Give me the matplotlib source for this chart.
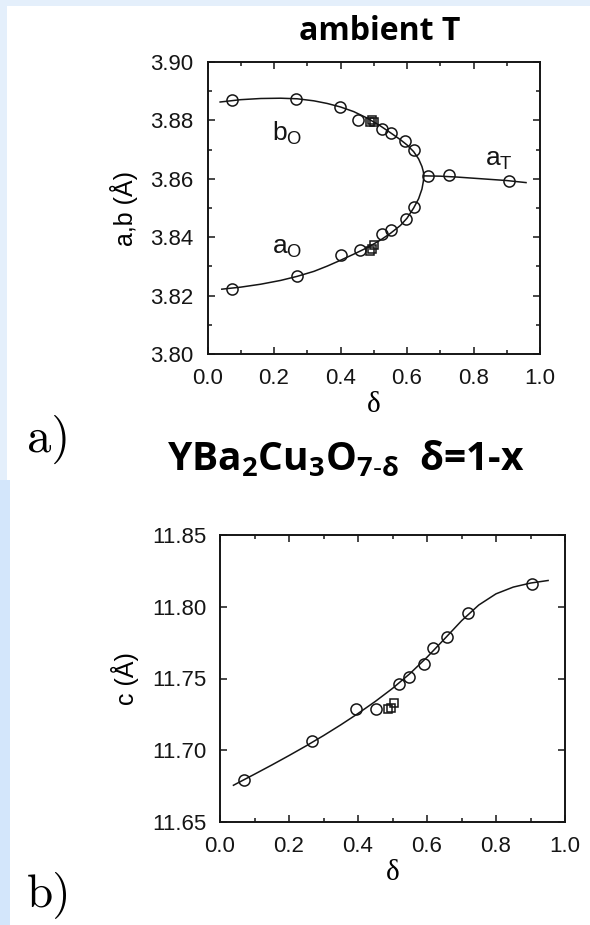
import matplotlib
matplotlib.use("Agg")
import matplotlib.pyplot as plt
from matplotlib.patches import Rectangle
from matplotlib.ticker import MultipleLocator, FormatStrFormatter

plt.rcParams["font.family"] = ["Liberation Sans", "DejaVu Sans"]
plt.rcParams["mathtext.fontset"] = "custom"
plt.rcParams["mathtext.rm"] = "Liberation Sans"
plt.rcParams["mathtext.bf"] = "Open Sans:bold"

# a) lattice parameters a, b vs delta
b_delta = [0.073, 0.266, 0.398, 0.454, 0.524, 0.552, 0.595, 0.622]
b_val = [3.8869, 3.8872, 3.8846, 3.8803, 3.8772, 3.8758, 3.8731, 3.8697]
a_delta = [0.075, 0.270, 0.401, 0.459, 0.524, 0.552, 0.596, 0.622]
a_val = [3.8222, 3.8267, 3.8340, 3.8356, 3.8410, 3.8426, 3.8463, 3.8505]
aT_delta = [0.664, 0.727, 0.906]
aT_val = [3.8609, 3.8614, 3.8594]
b_sq_delta = [0.488, 0.495, 0.502]
b_sq_val = [3.8793, 3.8800, 3.8796]
a_sq_delta = [0.488, 0.495, 0.502]
a_sq_val = [3.8353, 3.8358, 3.8372]

# fitted curve (b branch -> tip -> a branch, then a_T)
ab_fit_delta = [0.038, 0.10, 0.16, 0.22, 0.27, 0.32, 0.36, 0.40, 0.44, 0.48,
                0.52, 0.55, 0.58, 0.60, 0.62, 0.635, 0.645, 0.649, 0.651,
                0.649, 0.645, 0.635, 0.62, 0.60, 0.58, 0.55, 0.52, 0.48,
                0.44, 0.40, 0.36, 0.32, 0.27, 0.22, 0.16, 0.10, 0.043]
ab_fit_val = [3.8863, 3.8871, 3.8875, 3.8876, 3.8874, 3.8867, 3.8858, 3.8846,
              3.8830, 3.8808, 3.8781, 3.8758, 3.8734, 3.8716, 3.8693, 3.8668,
              3.8642, 3.8625, 3.8610, 3.8590, 3.8565, 3.8532, 3.8500, 3.8465,
              3.8440, 3.8413, 3.8390, 3.8364, 3.8342, 3.8321, 3.8301, 3.8283,
              3.8266, 3.8252, 3.8239, 3.8229, 3.8222]
aT_fit_delta = [0.651, 0.70, 0.75, 0.80, 0.85, 0.90, 0.958]
aT_fit_val = [3.8610, 3.8609, 3.8606, 3.8602, 3.8598, 3.8594, 3.8587]

# b) lattice parameter c vs delta
c_delta = [0.071, 0.267, 0.395, 0.453, 0.519, 0.548, 0.590, 0.616, 0.657, 0.718, 0.904]
c_val = [11.6796, 11.7065, 11.7284, 11.7284, 11.7465, 11.7511, 11.7598,
         11.7713, 11.7790, 11.7958, 11.8162]
c_sq_delta = [0.488, 0.496, 0.503]
c_sq_val = [11.7290, 11.7295, 11.7330]
c_fit_delta = [0.039, 0.05, 0.10, 0.15, 0.20, 0.25, 0.30, 0.35, 0.40, 0.45,
               0.50, 0.55, 0.60, 0.65, 0.70, 0.75, 0.80, 0.85, 0.90, 0.951]
c_fit_val = [11.6756, 11.6770, 11.6833, 11.6897, 11.6963, 11.7031, 11.7102,
             11.7177, 11.7256, 11.7340, 11.7431, 11.7533, 11.7648, 11.7774,
             11.7902, 11.8012, 11.8090, 11.8137, 11.8165, 11.8183]

W, H = 590, 925
fig = plt.figure(figsize=(W / 100, H / 100), dpi=100)


def box(x0, y0, x1, y1):
    # pixel box (top-left origin) -> figure fraction rect
    return [x0 / W, 1 - y1 / H, (x1 - x0) / W, (y1 - y0) / H]


def fxy(x, y):
    return x / W, 1 - y / H


# light blue frame
for r, col in [(box(0, 0, W, 6), "#e4effb"), (box(0, 0, 7, 480), "#e4effb"),
               (box(0, 480, 10, H), "#d3e6fb")]:
    fig.patches.append(Rectangle(r[:2], r[2], r[3], transform=fig.transFigure,
                                 facecolor=col, edgecolor="none", zorder=-5))

ink = "#151515"


def style(ax, ymajor, yminor):
    ax.set_xlim(0, 1)
    ax.xaxis.set_major_locator(MultipleLocator(0.2))
    ax.xaxis.set_minor_locator(MultipleLocator(0.1))
    ax.yaxis.set_major_locator(MultipleLocator(ymajor))
    if yminor:
        ax.yaxis.set_minor_locator(MultipleLocator(yminor))
    ax.yaxis.set_major_formatter(FormatStrFormatter("%.2f"))
    ax.tick_params(which="both", direction="in", top=True, right=True,
                   colors=ink, width=1.1)
    ax.tick_params(which="major", length=5, labelsize=16, pad=10)
    ax.tick_params(which="minor", length=3)
    for s in ax.spines.values():
        s.set_linewidth(1.4)
        s.set_color(ink)
    ax.set_xlabel("δ", family=["Liberation Serif", "DejaVu Serif"], fontsize=21,
                  labelpad=2)


circ = dict(linestyle="none", marker="o", markersize=8, markerfacecolor="none",
            markeredgecolor=ink, markeredgewidth=1.1)
sq = dict(linestyle="none", marker="s", markersize=6, markerfacecolor="none",
          markeredgecolor=ink, markeredgewidth=1.1)

ax1 = fig.add_axes(box(207.5, 62, 540, 354))
ax1.plot(ab_fit_delta, ab_fit_val, color=ink, lw=1.1)
ax1.plot(aT_fit_delta, aT_fit_val, color=ink, lw=1.1)
ax1.plot(b_delta, b_val, **circ)
ax1.plot(a_delta, a_val, **circ)
ax1.plot(aT_delta, aT_val, **circ)
ax1.plot(b_sq_delta, b_sq_val, **sq)
ax1.plot(a_sq_delta, a_sq_val, **sq)
ax1.set_ylim(3.80, 3.90)
style(ax1, 0.02, 0.01)
ax1.set_ylabel("a,b (Å)", fontsize=18, labelpad=9)
ax1.text(0.195, 3.8731, r"b$_\mathrm{O}$", fontsize=19, color=ink)
ax1.text(0.195, 3.8345, r"a$_\mathrm{O}$", fontsize=19, color=ink)
ax1.text(0.835, 3.8645, r"a$_\mathrm{T}$", fontsize=19, color=ink)

ax2 = fig.add_axes(box(220, 535, 565, 822))
ax2.plot(c_fit_delta, c_fit_val, color=ink, lw=1.1)
ax2.plot(c_delta, c_val, **circ)
ax2.plot(c_sq_delta, c_sq_val, **sq)
ax2.set_ylim(11.65, 11.85)
style(ax2, 0.05, None)
ax2.set_ylabel("c (Å)", fontsize=18, labelpad=9)

# titles and panel letters
fig.text(*fxy(380, 40), "ambient T", ha="center", va="baseline", fontsize=23,
         fontweight="bold", family=["Open Sans", "DejaVu Sans"])
fig.text(*fxy(346, 470), r"$\mathbf{YBa_2Cu_3O_{7\text{-}δ}}$  δ=1-x",
         ha="center", va="baseline", fontsize=28, fontweight="bold",
         family=["Open Sans", "DejaVu Sans"])
fig.text(*fxy(27, 452), "a)", ha="left", va="baseline", fontsize=35, family="cmr10")
fig.text(*fxy(27, 906), "b)", ha="left", va="baseline", fontsize=34, family="cmr10")

fig.savefig("out.png", dpi=100, facecolor="white")
